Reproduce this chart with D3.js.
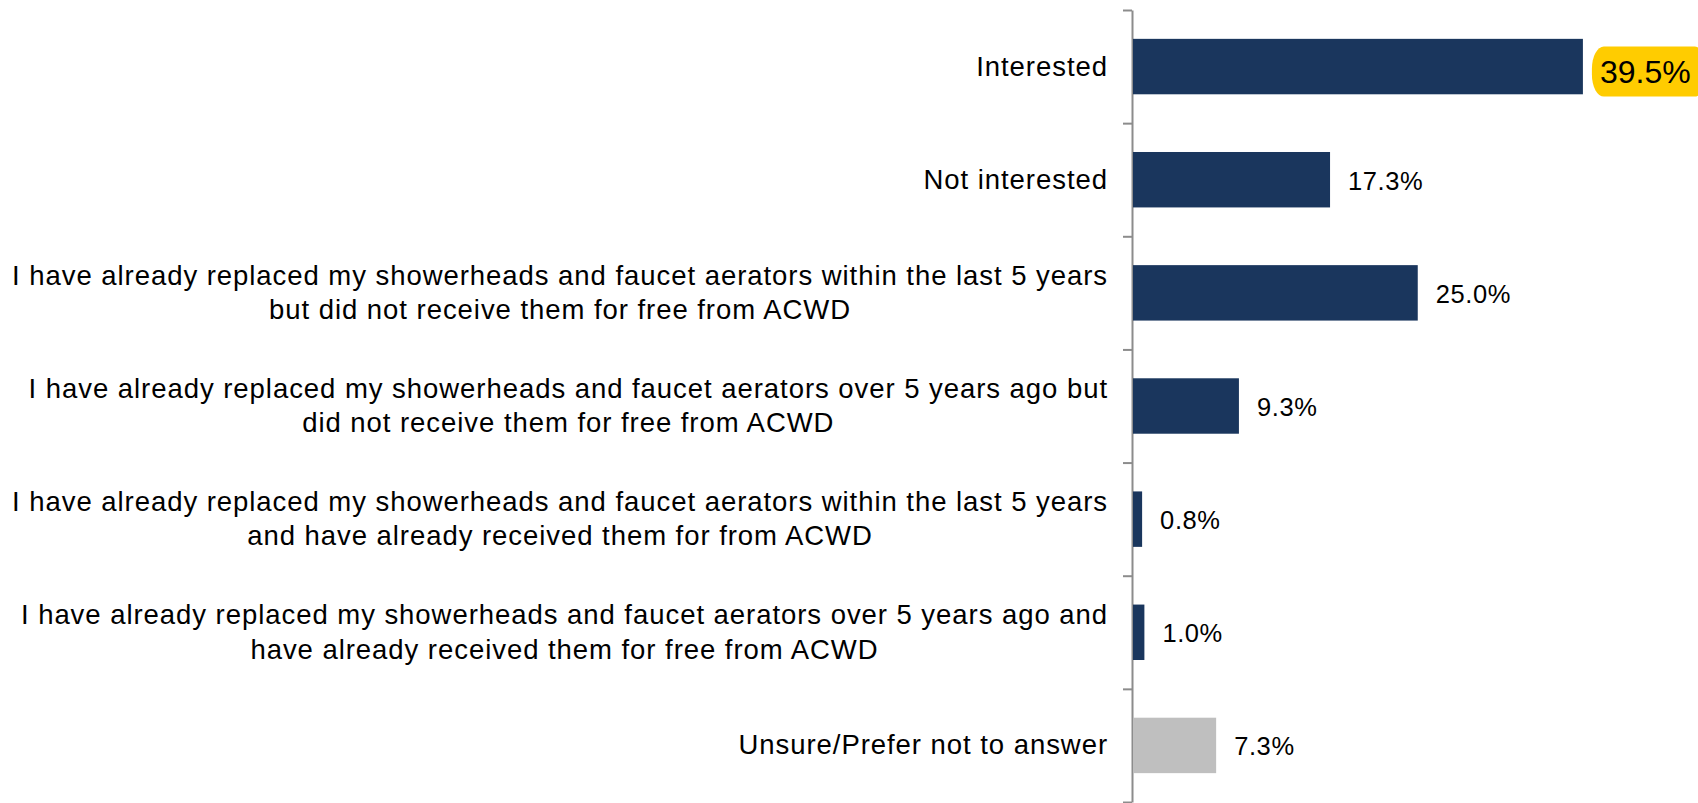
<!DOCTYPE html>
<html>
<head>
<meta charset="utf-8">
<script src="https://cdn.jsdelivr.net/npm/d3@7"></script>
<style>
  html, body { margin: 0; padding: 0; background: #fff; overflow: hidden; }
  svg { display: block; }
  text { font-family: "Liberation Sans", Arial, Helvetica, sans-serif; fill: #000; }
</style>
</head>
<body>
<svg id="chart" width="1698" height="803"></svg>
<script>
// Survey responses, one entry per answer (label lines as wrapped in the chart)
const categories = [
  ["Interested"],
  ["Not interested"],
  ["I have already replaced my showerheads and faucet aerators within the last 5 years",
   "but did not receive them for free from ACWD"],
  ["I have already replaced my showerheads and faucet aerators over 5 years ago but",
   "did not receive them for free from ACWD"],
  ["I have already replaced my showerheads and faucet aerators within the last 5 years",
   "and have already received them for from ACWD"],
  ["I have already replaced my showerheads and faucet aerators over 5 years ago and",
   "have already received them for free from ACWD"],
  ["Unsure/Prefer not to answer"]
];
const values = [39.5, 17.3, 25.0, 9.3, 0.8, 1.0, 7.3];
const valueLabels = ["39.5%", "17.3%", "25.0%", "9.3%", "0.8%", "1.0%", "7.3%"];
const highlighted = [true, false, false, false, false, false, false];
const neutral = [false, false, false, false, false, false, true];

const svg = d3.select("#chart");

const plot = { left: 1133, top: 10, bottom: 802 };
const keys = categories.map((c, i) => i);

const barPad = 0.51;
const y = d3.scaleBand()
  .domain(keys)
  .range([plot.top, plot.bottom])
  .paddingInner(barPad)
  .paddingOuter(barPad / 2);

const x = d3.scaleLinear()
  .domain([0, 40])
  .range([plot.left, plot.left + 455.6]);

// Category axis: line with ticks on the boundaries between answers
const boundary = d3.scaleLinear()
  .domain([0, categories.length])
  .range([plot.top, plot.bottom]);

const axis = svg.append("g")
  .attr("transform", `translate(${plot.left - 1},0)`)
  .call(d3.axisLeft(boundary)
    .tickValues(d3.range(categories.length + 1))
    .tickFormat("")
    .tickSize(9)
    .tickSizeOuter(0));
axis.selectAll("path, line").attr("stroke", "#8c8c8c").attr("stroke-width", 2);

// Bars
svg.append("g").selectAll("rect")
  .data(keys)
  .join("rect")
  .attr("x", x(0))
  .attr("y", i => y(i))
  .attr("width", i => x(values[i]) - x(0))
  .attr("height", y.bandwidth())
  .attr("fill", i => neutral[i] ? "#bfbfbf" : "#1a365d");

// Category labels: each block sits flush right against the axis,
// with its lines centred on one another
const lineGap = 34.6;
const labelRight = plot.left - 25;
const labels = svg.append("g")
  .selectAll("text")
  .data(keys)
  .join("text")
  .attr("text-anchor", "middle")
  .attr("font-size", 27.5)
  .attr("letter-spacing", "0.95px")
  .attr("dominant-baseline", "central");
labels.each(function(i) {
  const lines = categories[i];
  const cy = y(i) + y.bandwidth() / 2;
  const t = d3.select(this);
  const spans = lines.map((ln, k) => t.append("tspan")
    .attr("y", cy + (k - (lines.length - 1) / 2) * lineGap - 1)
    .text(ln));
  const widest = d3.max(spans, s => s.node().getComputedTextLength());
  spans.forEach(s => s.attr("x", labelRight - widest / 2));
});

// Value labels
const vals = svg.append("g");
keys.forEach(i => {
  const cy = y(i) + y.bandwidth() / 2;
  const xEnd = x(values[i]);
  if (highlighted[i]) {
    const g = vals.append("g");
    const tx = xEnd + 17;
    const t = g.append("text")
      .attr("x", tx)
      .attr("y", cy + 5)
      .attr("font-size", 32)
      .attr("dominant-baseline", "central")
      .text(valueLabels[i]);
    const w = t.node().getComputedTextLength();
    g.insert("rect", "text")
      .attr("x", xEnd + 9)
      .attr("y", cy + 5 - 25)
      .attr("width", w + 24)
      .attr("height", 50)
      .attr("rx", 12)
      .attr("ry", 22)
      .attr("fill", "#ffcc00");
  } else {
    vals.append("text")
      .attr("x", xEnd + 18)
      .attr("y", cy + 1)
      .attr("font-size", 25.5)
      .attr("letter-spacing", "0.6px")
      .attr("dominant-baseline", "central")
      .text(valueLabels[i]);
  }
});
</script>
</body>
</html>
